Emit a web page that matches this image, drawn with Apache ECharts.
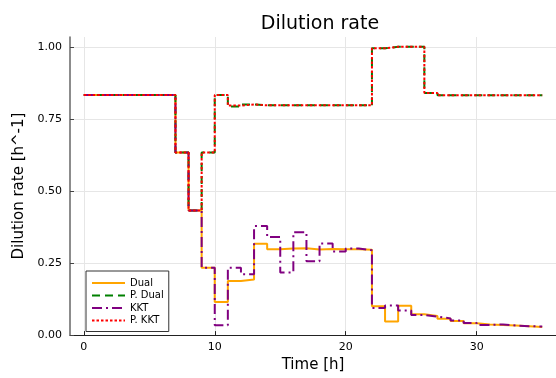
<!DOCTYPE html>
<html>
<head>
<meta charset="utf-8">
<script src="https://cdn.jsdelivr.net/npm/echarts@6/dist/echarts.min.js"></script>
<style>
  html, body { margin: 0; padding: 0; background: #fff; }
  #main { width: 556px; height: 378px; }
</style>
</head>
<body>
<div id="main"></div>
<script>
// time points, one value per hour (steppost)
var hours = [0, 1, 2, 3, 4, 5, 6, 7, 8, 9, 10, 11, 12, 13, 14, 15, 16, 17,
             18, 19, 20, 21, 22, 23, 24, 25, 26, 27, 28, 29, 30, 31, 32, 33, 34, 35];

var dual = [0.833, 0.833, 0.833, 0.833, 0.833, 0.833, 0.833, 0.633, 0.432, 0.234,
            0.115, 0.188, 0.193, 0.317, 0.298, 0.300, 0.301, 0.297, 0.299, 0.298,
            0.298, 0.296, 0.100, 0.047, 0.102, 0.072, 0.066, 0.057, 0.049, 0.041,
            0.037, 0.035, 0.033, 0.031, 0.028, 0.028];

var pDual = [0.833, 0.833, 0.833, 0.833, 0.833, 0.833, 0.833, 0.633, 0.432, 0.633,
             0.833, 0.793, 0.800, 0.797, 0.797, 0.797, 0.797, 0.797, 0.797, 0.797,
             0.797, 0.797, 0.995, 1.000, 1.000, 1.000, 0.840, 0.832, 0.832, 0.832,
             0.832, 0.832, 0.832, 0.832, 0.832, 0.832];

var kkt = [0.833, 0.833, 0.833, 0.833, 0.833, 0.833, 0.833, 0.633, 0.432, 0.234,
           0.034, 0.234, 0.211, 0.378, 0.340, 0.217, 0.357, 0.256, 0.318, 0.290,
           0.300, 0.294, 0.094, 0.103, 0.085, 0.070, 0.064, 0.058, 0.051, 0.042,
           0.035, 0.037, 0.033, 0.031, 0.030, 0.030];

var pKkt = [0.833, 0.833, 0.833, 0.833, 0.833, 0.833, 0.833, 0.633, 0.432, 0.633,
            0.833, 0.796, 0.800, 0.797, 0.797, 0.797, 0.797, 0.797, 0.797, 0.797,
            0.797, 0.797, 0.995, 1.000, 1.000, 1.000, 0.840, 0.832, 0.832, 0.832,
            0.832, 0.832, 0.832, 0.832, 0.832, 0.832];

var xTicks = [0, 10, 20, 30];
var yTicks = [0, 0.25, 0.5, 0.75, 1.0];

var FONT = 'DejaVu Sans';

function pairs(vals) {
    return hours.map(function (h, i) { return [h, vals[i]]; });
}

function stepSeries(name, vals, color, dash) {
    return {
        name: name,
        type: 'line',
        step: 'end',
        symbol: 'none',
        animation: false,
        data: pairs(vals),
        lineStyle: { color: color, width: 2, type: dash },
        itemStyle: { color: color }
    };
}

var myChart = echarts.init(document.getElementById('main'));

var option = {
    backgroundColor: '#fff',
    animation: false,
    title: {
        text: 'Dilution rate',
        left: 315,
        top: 10,
        textAlign: 'center',
        textStyle: { fontFamily: FONT, fontSize: 19, fontWeight: 'normal', color: '#000' }
    },
    legend: {
        orient: 'vertical',
        left: 86,
        top: 271,
        padding: [7, 5, 6, 5],
        itemWidth: 33,
        itemHeight: 10,
        itemGap: 2.5,
        borderColor: '#333',
        borderWidth: 1,
        backgroundColor: '#fff',
        // hide the marker dot, keep only the line
        itemStyle: { opacity: 0 },
        textStyle: { fontFamily: FONT, fontSize: 10, color: '#000', padding: [0, 0, 0, 0] },
        data: ['Dual', 'P. Dual', 'KKT', 'P. KKT']
    },
    grid: { left: 70, right: -4, top: 37, bottom: 37 },
    xAxis: {
        type: 'value',
        min: -1.05,
        max: 36.05,
        name: 'Time [h]',
        nameLocation: 'middle',
        nameGap: 21,
        nameTextStyle: { fontFamily: FONT, fontSize: 15, color: '#000' },
        axisLine: { show: true, onZero: false, lineStyle: { color: '#222', width: 1 } },
        axisTick: { show: true, inside: true, length: 4, customValues: xTicks, lineStyle: { color: '#222' } },
        axisLabel: {
            customValues: xTicks,
            margin: 7,
            fontFamily: FONT, fontSize: 11, color: '#000'
        },
        splitLine: { show: true, lineStyle: { color: '#e6e6e6', width: 1 } }
    },
    yAxis: {
        type: 'value',
        min: 0,
        max: 1.034,
        name: 'Dilution rate [h^-1]',
        nameLocation: 'middle',
        nameGap: 39,
        nameTextStyle: { fontFamily: FONT, fontSize: 15, color: '#000' },
        axisLine: { show: true, onZero: false, lineStyle: { color: '#666', width: 1.5 } },
        axisTick: { show: true, inside: true, length: 4, customValues: yTicks, lineStyle: { color: '#444' } },
        axisLabel: {
            customValues: yTicks,
            margin: 8,
            fontFamily: FONT, fontSize: 11, color: '#000',
            formatter: function (v) { return v.toFixed(2); }
        },
        splitLine: { show: true, lineStyle: { color: '#e6e6e6', width: 1 } }
    },
    series: [
        stepSeries('Dual', dual, '#FFA500', 'solid'),
        stepSeries('P. Dual', pDual, '#008000', [8, 5]),
        stepSeries('KKT', kkt, '#800080', [10, 4, 2, 4]),
        stepSeries('P. KKT', pKkt, '#FF0000', [2.5, 2])
    ]
};

myChart.setOption(option);
</script>
</body>
</html>
